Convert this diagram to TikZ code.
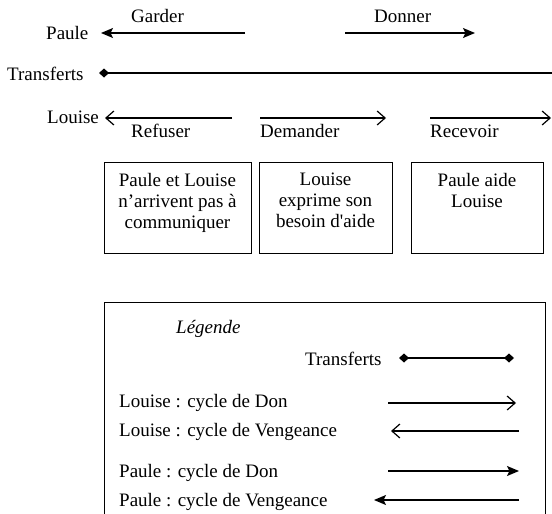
\documentclass[tikz,border=0pt]{standalone}
\usepackage{fontspec}
\setmainfont{Liberation Serif}
\usetikzlibrary{arrows.meta}
\begin{document}
\begin{tikzpicture}[x=1pt,y=-1pt,
  txt/.style={font=\fontsize{19}{21}\selectfont, inner sep=0pt, anchor=base west},
  boxtxt/.style={font=\fontsize{19}{21}\selectfont, inner sep=0pt, align=center, anchor=north},
  box/.style={draw, line width=1pt, inner sep=0pt},
  pa/.style={line width=1.3pt,-{Stealth[length=12pt,width=10pt,inset=2.5pt]}},
  lo/.style={line width=1.2pt,-{Straight Barb[length=8pt,width=14pt]}},
  tr/.style={line width=1.3pt,{Diamond[length=10pt,width=9pt]}-{Diamond[length=10pt,width=9pt]}},
  trone/.style={line width=1.3pt,-{Diamond[length=10pt,width=9pt]}},
]
\useasboundingbox (0,0) rectangle (552,514);

% Row labels
\node[txt] (paule) at (46,39) {Paule};
\node[txt] (transf) at (7,80) {Transferts};
\node[txt] (louise) at (47,123) {Louise};

% Paule arrows
\node[txt] (garder) at (131,23) {Garder};
\node[txt] (donner) at (374,22) {Donner};
\coordinate (g1) at (245,33);
\coordinate (g2) at (101,33);
\draw[pa] (g1) -- (g2);
\coordinate (d1) at (345,33);
\coordinate (d2) at (475,33);
\draw[pa] (d1) -- (d2);

% Transferts line
\coordinate (t1) at (553,73);
\coordinate (t2) at (99,73);
\draw[trone] (t1) -- (t2);

% Louise arrows
\coordinate (r1) at (232,118);
\coordinate (r2) at (105,118);
\draw[lo] (r1) -- (r2);
\coordinate (m1) at (260,118);
\coordinate (m2) at (386,118);
\draw[lo] (m1) -- (m2);
\coordinate (c1) at (430,118);
\coordinate (c2) at (551,118);
\draw[lo] (c1) -- (c2);
\node[txt] (refuser) at (131,137) {Refuser};
\node[txt] (demander) at (260,137) {Demander};
\node[txt] (recevoir) at (430,137) {Recevoir};

% Boxes
\node[box, minimum width=147pt, minimum height=91pt] (b1) at (177.5,207.5) {};
\node[box, minimum width=133pt, minimum height=91pt] (b2) at (325.5,207.5) {};
\node[box, minimum width=132pt, minimum height=91pt] (b3) at (477,207.5) {};
\node[boxtxt] (t1txt) at (177.5,173) {Paule et Louise\\n’arrivent pas à\\communiquer};
\node[boxtxt] (t2txt) at (325.5,173) {Louise\\exprime son\\besoin d\textquotesingle aide};
\node[boxtxt] (t3txt) at (477,173) {Paule aide\\Louise};

% Legend box (open at the bottom)
\coordinate (L1) at (104,515);
\coordinate (L2) at (104,302);
\coordinate (L3) at (545,302);
\coordinate (L4) at (545,515);
\draw[line width=1pt] (L1) -- (L2) -- (L3) -- (L4);

\node[txt] (leg) at (176,333) {\itshape Légende};
\node[txt] (lt) at (305,365) {Transferts};
\coordinate (lt1) at (399,358);
\coordinate (lt2) at (514,358);
\draw[tr] (lt1) -- (lt2);

\node[txt] (ld) at (119,407) {Louise : cycle de Don};
\coordinate (ld1) at (388,403);
\coordinate (ld2) at (516,403);
\draw[lo] (ld1) -- (ld2);

\node[txt] (lv) at (119,436) {Louise : cycle de Vengeance};
\coordinate (lv1) at (519,431);
\coordinate (lv2) at (391,431);
\draw[lo] (lv1) -- (lv2);

\node[txt] (pd) at (119,477) {Paule : cycle de Don};
\coordinate (pd1) at (388,471);
\coordinate (pd2) at (519,471);
\draw[pa] (pd1) -- (pd2);

\node[txt] (pv) at (119,506) {Paule : cycle de Vengeance};
\coordinate (pv1) at (519,500);
\coordinate (pv2) at (374,500);
\draw[pa] (pv1) -- (pv2);
\end{tikzpicture}
\end{document}
